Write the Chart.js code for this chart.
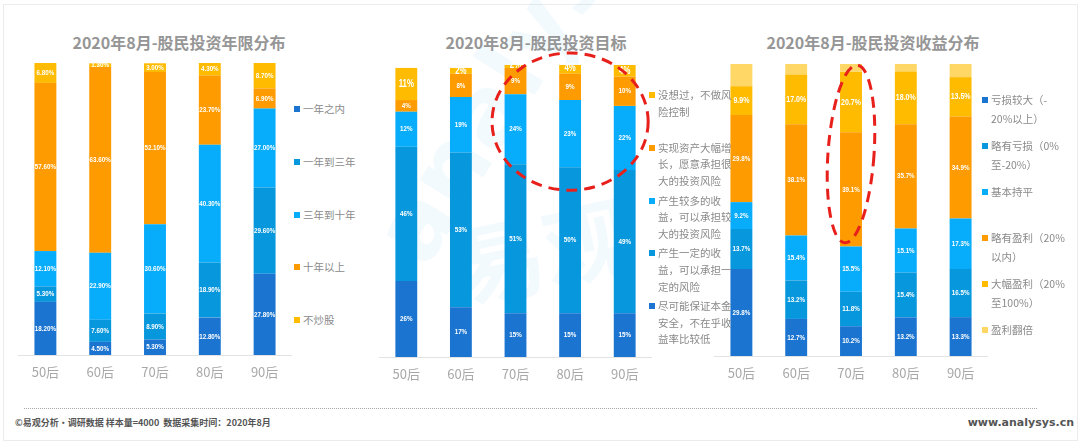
<!DOCTYPE html>
<html>
<head>
<meta charset="utf-8">
<title>2020年8月股民投资分布</title>
<script src="https://cdn.jsdelivr.net/npm/chart.js"></script>
<style>
  body { margin: 0; background: #fff; font-family: "Noto Sans CJK SC", "Noto Sans", sans-serif; }
  #page { position: relative; width: 1080px; height: 446px; overflow: hidden; }
  #frame { position: absolute; left: 3px; top: 4px; width: 1073px; height: 435px; border: 1px solid #ececec; }
  .title { position: absolute; top: 30px; font-size: 16px; font-weight: 700; color: #969696; white-space: nowrap; transform: translateX(-50%); line-height: 24px; }
  .box { position: absolute; }
  .legend { position: absolute; margin: 0; padding: 0; list-style: none; color: #8a8a8a; font-size: 10.5px; }
  .legend li { position: relative; white-space: pre-line; }
  .legend li i { position: absolute; width: 6px; height: 6px; }
  .wm { position: absolute; font-family: "DejaVu Sans", sans-serif; font-weight: 700; color: rgba(120, 200, 240, 0.09); white-space: nowrap; transform-origin: left bottom; }
  #rule { position: absolute; left: 24px; top: 408px; width: 1013px; border-top: 1px dotted #a8a8a8; }
  .foot { position: absolute; top: 414px; font-size: 9px; font-weight: 700; color: #555; line-height: 18px; }
</style>
</head>
<body>
<div id="page">
  <div id="frame"></div>
  <div class="wm" style="left:445px; top:170px; font-size:96px; transform: rotate(-58deg);">analysys</div>
  <div class="wm" style="left:470px; top:200px; font-size:88px; font-family:'Noto Sans CJK SC'; transform: rotate(-12deg);">易观</div>

  <div class="title" style="left:179px;">2020年8月-股民投资年限分布</div>
  <div class="title" style="left:536px;">2020年8月-股民投资目标</div>
  <div class="title" style="left:873px;">2020年8月-股民投资收益分布</div>

  <div class="box" style="left:18px; top:43px; width:274px; height:350px;"><canvas id="c1"></canvas></div>
  <div class="box" style="left:379px; top:45px; width:273px; height:350px;"><canvas id="c2"></canvas></div>
  <div class="box" style="left:714px; top:44px; width:274px; height:350px;"><canvas id="c3"></canvas></div>

  <ul class="legend" id="lg1" style="left:294px; top:101px;"></ul>
  <ul class="legend" id="lg2" style="left:649px; top:87px;"></ul>
  <ul class="legend" id="lg3" style="left:982px; top:90px;"></ul>

  <div id="rule"></div>
  <div class="foot" style="left:15px;">©易观分析·调研数据 样本量=4000&nbsp;&nbsp;数据采集时间：2020年8月</div>
  <div class="foot" style="right:6px; font-size:11px; font-family:'DejaVu Sans', sans-serif;">www.analysys.cn</div>
</div>

<script>
// 公共
const ages = ['50后', '60后', '70后', '80后', '90后'];
const colDark = '#1a74d0';
const colMid = '#0797dc';
const colLight = '#07acfb';
const colOrange = '#fe9b01';
const colYellow = '#ffbb00';
const colPale = '#ffd766';

// 图1 投资年限
const yearNames = ['一年之内', '一年到三年', '三年到十年', '十年以上', '不炒股'];
const yearWithin1 = [18.2, 4.5, 5.3, 12.8, 27.8];
const year1to3 = [5.3, 7.6, 8.9, 18.9, 29.6];
const year3to10 = [12.1, 22.9, 30.6, 40.3, 27.0];
const yearOver10 = [57.6, 63.6, 52.1, 23.7, 6.9];
const yearNone = [6.8, 1.3, 3.0, 4.3, 8.7];

// 图2 投资目标
const goalNames = ['尽可能保证本金\n安全，不在乎收\n益率比较低', '产生一定的收\n益，可以承担一\n定的风险', '产生较多的收\n益，可以承担较\n大的投资风险', '实现资产大幅增\n长，愿意承担很\n大的投资风险', '没想过，不做风\n险控制'];
const goalSafe = [26, 17, 15, 15, 15];
const goalSome = [46, 53, 51, 50, 49];
const goalMore = [12, 19, 24, 23, 22];
const goalBig = [4, 8, 9, 9, 10];
const goalNone = [11, 2, 2, 4, 4];

// 图3 投资收益
const profitNames = ['亏损较大（-\n20%以上）', '略有亏损（0%\n至-20%）', '基本持平', '略有盈利（20%\n以内）', '大幅盈利（20%\n至100%）', '盈利翻倍'];
const lossBig = [29.8, 12.7, 10.2, 13.2, 13.3];
const lossSmall = [13.7, 13.2, 11.8, 15.4, 16.5];
const flat = [9.2, 15.4, 15.5, 15.1, 17.3];
const gainSmall = [29.8, 38.1, 39.1, 35.7, 34.9];
const gainBig = [9.9, 17.0, 20.7, 18.0, 13.5];
const gainDouble = [7.6, 3.6, 2.7, 2.6, 4.5];

// 柱内白色数值（字体横向压窄）
const segLabels = {
  id: 'segLabels',
  afterDatasetsDraw(chart, args, opts) {
    const ctx = chart.ctx;
    chart.data.datasets.forEach((ds, i) => {
      const size = opts.sizes[i];
      if (!size) return;
      chart.getDatasetMeta(i).data.forEach((bar, j) => {
        ctx.save();
        ctx.translate(bar.x, (bar.y + bar.base) / 2);
        ctx.scale(0.78, 1);
        ctx.fillStyle = '#fff';
        ctx.font = 'bold ' + size + 'px "Liberation Sans", Arial, sans-serif';
        ctx.textAlign = 'center';
        ctx.textBaseline = 'middle';
        ctx.fillText(ds.data[j].toFixed(opts.decimals) + '%', 0, 0);
        ctx.restore();
      });
    });
  }
};

// 红色虚线圈
const redRing = {
  id: 'redRing',
  afterDraw(chart, args, opts) {
    if (!opts.on) return;
    const xs = chart.scales.x, ys = chart.scales.y;
    const step = xs.getPixelForValue(1) - xs.getPixelForValue(0);
    const cx = xs.getPixelForValue(opts.cat);
    const cy = ys.getPixelForValue(opts.val);
    const ry = ys.getPixelForValue(0) - ys.getPixelForValue(opts.ry);
    const ctx = chart.ctx;
    ctx.save();
    ctx.strokeStyle = '#e8201c';
    ctx.lineWidth = 3;
    ctx.setLineDash([11, 7]);
    ctx.beginPath();
    ctx.ellipse(cx, cy, opts.rx * step, ry, opts.rot, 0, Math.PI * 2);
    ctx.stroke();
    ctx.restore();
  }
};

function makeChart(id, sets, names, colors, padTop, labelOpts, ring) {
  new Chart(document.getElementById(id), {
    type: 'bar',
    data: {
      labels: ages,
      datasets: sets.map((d, i) => ({
        label: names[i].replace(/\n/g, ''),
        data: d,
        backgroundColor: colors[i],
        borderWidth: 0,
        categoryPercentage: 0.5,
        barPercentage: 0.8
      }))
    },
    options: {
      responsive: true,
      maintainAspectRatio: false,
      animation: false,
      layout: { padding: { top: padTop, left: 0, right: 0, bottom: 0 } },
      scales: {
        x: {
          stacked: true,
          grid: { display: false, drawTicks: false },
          border: { display: true, color: '#e3e3e3', width: 1 },
          ticks: { color: '#a8a8a8', padding: 9, font: { size: 13, family: '"Noto Sans CJK SC", sans-serif' } },
          afterFit(scale) { scale.height = 38; }
        },
        y: { stacked: true, display: false, min: 0, max: 100 }
      },
      plugins: {
        legend: { display: false },
        tooltip: { enabled: false },
        segLabels: labelOpts,
        redRing: ring || { on: false }
      }
    },
    plugins: [segLabels, redRing]
  });
}

function makeLegend(id, names, colors, itemH, lineH, sqTop) {
  const ul = document.getElementById(id);
  names.forEach((n, i) => {
    const li = document.createElement('li');
    li.style.height = itemH + 'px';
    li.style.lineHeight = lineH + 'px';
    li.style.paddingLeft = '9px';
    li.innerHTML = '<i style="left:0; top:' + sqTop + 'px; background:' + colors[i] + '"></i>';
    li.appendChild(document.createTextNode(n));
    ul.appendChild(li);
  });
}

const c5 = [colDark, colMid, colLight, colOrange, colYellow];
makeChart('c1', [yearWithin1, year1to3, year3to10, yearOver10, yearNone], yearNames, c5, 20,
  { decimals: 2, sizes: [8, 8, 8, 8, 8] });
makeLegend('lg1', yearNames, c5, 52.75, 16, 5);

makeChart('c2', [goalSafe, goalSome, goalMore, goalBig, goalNone], goalNames, c5, 20,
  { decimals: 0, sizes: [8, 8, 8, 8, 10] },
  { on: true, cat: 3, val: 80.6, rx: 1.43, ry: 23.5, rot: 0 });
// 图例顺序自上而下与堆叠方向相反
makeLegend('lg2', goalNames.slice().reverse(), c5.slice().reverse(), 52.8, 16.6, 5);

const c6 = [colDark, colMid, colLight, colOrange, colYellow, colPale];
makeChart('c3', [lossBig, lossSmall, flat, gainSmall, gainBig, gainDouble], profitNames, c6, 20,
  { decimals: 1, sizes: [8, 8, 8, 8, 9, 0] },
  { on: true, cat: 2, val: 69.2, rx: 0.42, ry: 30.5, rot: 0.07 });
makeLegend('lg3', profitNames, c6, 46, 19, 6.5);
</script>
</body>
</html>
